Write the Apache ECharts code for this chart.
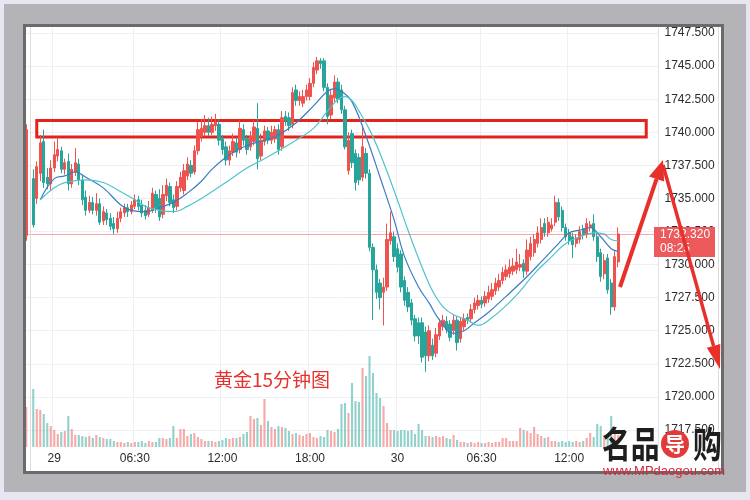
<!DOCTYPE html>
<html><head><meta charset="utf-8">
<script src="https://cdn.jsdelivr.net/npm/echarts@6/dist/echarts.min.js"></script>
<style>html,body{margin:0;padding:0;background:#e8e6f0;}#c{width:750px;height:500px;}</style>
</head><body><div id="c"></div>
<script>
// ---- data (15-minute gold bars): [open, high, low, close]
const ohlc = [
[1732.2,1740.6,1731.8,1740.2],null,
[1736.5,1737.2,1732.8,1733.0],[1735.0,1737.8,1734.6,1737.4],[1736.9,1739.8,1736.3,1739.2],[1739.3,1740.2,1735.8,1736.2],
[1736.6,1737.3,1735.7,1736.1],[1736.1,1737.9,1735.6,1737.3],[1737.3,1739.3,1737.0,1738.3],[1738.2,1739.6,1737.8,1738.7],
[1738.6,1738.9,1736.9,1737.2],[1737.2,1738.0,1736.8,1737.7],[1737.8,1738.4,1735.6,1736.1],[1736.1,1737.6,1735.8,1737.2],
[1737.0,1738.8,1736.7,1737.7],[1737.6,1738.0,1736.0,1736.4],[1736.4,1736.8,1734.5,1734.9],[1735.1,1735.6,1733.7,1734.1],
[1734.1,1735.2,1733.9,1734.7],[1734.7,1735.1,1733.8,1734.1],[1734.1,1735.4,1733.7,1734.6],[1734.6,1735.0,1733.0,1733.2],
[1733.3,1734.4,1733.0,1734.0],[1733.9,1734.2,1733.0,1733.4],[1733.5,1733.9,1732.6,1732.9],[1733.1,1733.6,1732.3,1732.7],
[1732.7,1734.0,1732.4,1733.5],[1733.5,1734.3,1733.2,1734.0],[1733.9,1734.6,1733.6,1734.3],[1734.3,1734.6,1733.6,1734.0],
[1734.0,1734.8,1733.8,1734.5],[1734.4,1735.3,1734.2,1734.9],[1734.9,1735.2,1734.1,1734.4],[1734.5,1734.9,1733.6,1733.9],
[1734.1,1734.5,1733.4,1733.7],[1733.8,1734.8,1733.6,1734.3],[1734.1,1735.8,1733.9,1735.4],[1735.3,1735.6,1733.9,1734.3],
[1735.0,1735.7,1733.3,1733.6],[1733.8,1736.0,1733.5,1735.3],[1735.2,1736.5,1734.8,1736.0],[1735.9,1736.2,1734.4,1734.7],
[1734.9,1735.3,1733.9,1734.3],[1734.4,1736.3,1734.1,1735.9],[1735.8,1737.0,1735.5,1736.6],[1735.6,1737.6,1735.3,1737.1],
[1736.7,1738.1,1736.4,1737.6],[1737.5,1737.9,1736.6,1736.9],[1737.0,1739.0,1736.8,1738.6],[1738.6,1740.8,1738.3,1740.2],
[1739.7,1741.0,1739.3,1740.3],[1740.0,1741.3,1739.7,1740.5],[1740.5,1741.1,1739.7,1740.0],[1740.0,1741.2,1739.8,1740.6],
[1740.5,1741.4,1740.1,1740.8],[1740.6,1741.0,1739.0,1739.4],[1739.5,1739.8,1738.3,1738.7],[1738.9,1739.3,1737.5,1737.9],
[1737.9,1739.0,1737.5,1738.6],[1738.5,1739.9,1738.2,1739.3],[1739.2,1739.6,1738.1,1738.5],[1738.7,1740.9,1738.4,1740.3],
[1740.2,1740.6,1739.0,1739.4],[1739.5,1739.8,1738.3,1738.7],[1738.9,1740.1,1738.6,1739.7],[1739.3,1740.9,1739.0,1740.4],
[1740.3,1742.2,1737.2,1738.0],[1738.2,1739.9,1737.9,1739.4],[1739.3,1740.5,1739.0,1740.1],[1740.1,1740.4,1739.1,1739.4],
[1739.4,1740.5,1739.1,1740.0],[1739.5,1740.5,1739.2,1740.2],[1740.2,1740.6,1738.3,1738.7],[1738.9,1741.6,1738.6,1741.1],
[1741.2,1741.6,1740.5,1740.9],[1741.1,1741.5,1740.1,1740.5],[1740.6,1743.4,1740.3,1743.0],[1743.2,1743.6,1742.0,1742.4],
[1742.4,1743.1,1742.0,1742.7],[1742.2,1743.2,1741.9,1742.7],[1742.7,1743.6,1742.4,1743.2],[1742.7,1744.1,1742.4,1743.7],
[1743.7,1745.3,1743.4,1744.9],[1744.7,1745.7,1744.4,1745.4],[1745.4,1745.6,1744.8,1745.2],[1745.4,1745.6,1743.1,1743.4],
[1743.4,1743.7,1740.6,1741.2],[1741.3,1743.2,1741.0,1742.8],[1742.6,1744.3,1742.3,1743.8],[1743.8,1744.1,1742.2,1742.5],
[1743.2,1743.6,1741.4,1741.7],[1741.7,1742.0,1738.7,1738.9],[1737.1,1740.0,1736.8,1739.4],[1739.9,1740.2,1737.3,1737.7],
[1738.4,1738.7,1735.6,1736.2],[1738.1,1738.4,1736.0,1736.4],[1736.6,1740.4,1736.3,1738.9],[1738.4,1738.8,1736.5,1736.9],
[1736.9,1737.2,1731.0,1731.3],[1731.3,1731.6,1725.8,1729.6],[1729.6,1730.0,1727.4,1727.9],[1728.6,1728.9,1726.6,1727.5],
[1727.9,1729.0,1725.4,1728.3],[1728.3,1733.1,1728.0,1731.9],[1731.8,1734.0,1731.5,1732.4],[1732.1,1732.5,1730.2,1730.6],
[1731.2,1731.6,1729.4,1729.8],[1730.8,1731.1,1727.9,1728.3],[1728.8,1729.1,1726.9,1727.3],[1727.9,1728.3,1726.4,1726.8],
[1727.1,1727.4,1725.4,1725.8],[1725.9,1726.2,1724.2,1724.6],[1725.6,1726.0,1724.0,1724.6],[1725.6,1726.0,1722.6,1723.0],
[1724.9,1725.3,1721.9,1723.1],[1723.1,1725.4,1722.7,1725.0],[1723.9,1724.4,1722.8,1723.1],[1723.3,1725.2,1723.0,1724.7],
[1724.6,1725.9,1724.3,1725.6],[1725.3,1726.2,1725.0,1725.8],[1725.7,1726.1,1724.8,1725.1],[1725.5,1725.8,1724.2,1724.5],
[1725.0,1726.2,1724.7,1725.8],[1725.8,1726.1,1723.5,1724.1],[1724.4,1726.0,1724.1,1725.7],[1725.3,1726.3,1725.0,1725.9],
[1726.0,1726.3,1725.5,1725.8],[1725.9,1727.0,1725.6,1726.6],[1726.6,1727.5,1726.3,1727.1],[1726.9,1727.7,1726.6,1727.3],
[1727.3,1727.6,1726.7,1727.0],[1727.1,1728.0,1726.8,1727.6],[1727.4,1728.4,1727.1,1727.9],[1727.6,1728.6,1727.3,1728.1],
[1728.0,1729.0,1727.7,1728.6],[1728.3,1729.3,1728.0,1728.8],[1728.8,1729.8,1728.5,1729.4],[1729.1,1730.0,1728.8,1729.6],
[1729.3,1730.4,1729.0,1729.8],[1729.5,1730.5,1729.2,1729.9],[1729.6,1731.2,1729.3,1730.2],[1729.8,1730.8,1729.5,1730.0],
[1730.1,1730.4,1729.0,1729.5],[1729.5,1731.9,1729.2,1731.1],[1730.6,1732.1,1730.3,1731.6],[1730.9,1732.3,1730.6,1731.9],
[1731.6,1732.9,1731.3,1732.4],[1731.9,1733.5,1731.6,1732.8],[1733.1,1733.5,1732.1,1732.4],[1732.4,1733.6,1732.1,1733.2],
[1732.7,1733.5,1732.5,1733.0],[1733.2,1735.2,1732.9,1734.7],[1734.7,1735.0,1733.3,1733.6],[1734.1,1734.4,1732.5,1732.8],
[1732.8,1733.1,1731.8,1732.1],[1732.4,1732.7,1731.5,1731.8],[1732.1,1732.4,1730.5,1731.5],[1731.6,1732.3,1731.3,1732.0],
[1731.9,1732.9,1731.6,1732.5],[1732.7,1733.0,1731.9,1732.3],[1732.3,1733.5,1732.0,1733.1],[1732.8,1733.3,1732.5,1733.0],
[1733.1,1733.8,1731.8,1732.1],[1732.1,1732.4,1730.2,1730.6],[1730.9,1731.2,1728.7,1729.1],[1729.3,1730.8,1728.9,1730.3],
[1730.5,1730.8,1727.8,1728.1],[1728.6,1728.9,1726.2,1726.8],[1726.8,1731.0,1726.5,1730.6],[1730.2,1732.8,1729.8,1732.32]
];
const volumes = [
40,0,58,38,37,33,24,21,17,13, 15,16,31,18,12,12,11,10,11,9, 12,10,9,8,8,6,5,5,4,5,
4,5,5,6,4,6,5,5,9,9, 8,9,21,9,18,18,11,13,14,10, 8,6,6,6,5,6,7,9,8,9,
9,10,13,15,31,28,29,22,48,26, 20,18,21,20,19,16,13,14,12,11, 13,14,10,9,11,10,17,16,15,18,
43,44,34,64,46,45,79,71,91,74, 54,49,41,24,17,17,16,17,17,16, 17,13,23,17,11,11,10,11,10,11,
9,8,12,7,5,5,4,5,4,5, 4,4,5,4,5,5,9,9,6,6, 6,19,17,16,14,20,13,11,9,10,
6,6,5,6,5,6,5,6,5,6, 9,14,10,23,21,12,10,31,19,12
];
// moving averages: [barIndex, value]
const maFast = [[4,1734.9],[8,1736.5],[11,1736.7],[14,1737.0],[17,1736.6],[22,1735.8],[27,1734.5],[30,1734.1],[34,1734.0],[38,1734.3],[42,1734.7],[46,1735.4],[50,1736.3],[53,1737.2],[58,1738.3],[63,1739.0],[68,1739.4],[72,1739.8],[77,1740.7],[82,1742.0],[86,1743.1],[88,1743.3],[90,1743.1],[93,1742.3],[97,1739.7],[101,1736.6],[105,1733.4],[108,1730.6],[112,1728.3],[115,1727.1],[118,1725.8],[122,1724.8],[125,1725.0],[128,1725.6],[132,1726.4],[137,1727.6],[143,1729.1],[147,1730.2],[152,1731.6],[155,1732.4],[158,1732.6],[161,1732.8],[164,1732.1],[167,1731.2],[169,1731.0]];
const maSlow = [[4,1734.9],[8,1735.8],[11,1736.2],[17,1736.4],[22,1736.2],[27,1735.5],[31,1734.9],[34,1734.4],[38,1734.1],[42,1734.0],[46,1734.4],[50,1735.0],[53,1735.5],[58,1736.4],[63,1737.3],[68,1738.0],[72,1738.6],[77,1739.4],[82,1740.3],[86,1741.6],[89,1742.5],[91,1742.7],[93,1742.4],[95,1741.6],[98,1740.2],[101,1738.4],[105,1735.6],[109,1732.6],[113,1729.8],[116,1728.0],[119,1726.8],[122,1726.2],[126,1725.8],[129,1725.4],[133,1726.0],[137,1726.9],[141,1728.0],[145,1729.3],[150,1730.6],[154,1731.6],[158,1732.1],[162,1732.4],[165,1732.3],[167,1731.9],[169,1731.8]];
const tickIndex = [8, 31, 56, 81, 106, 130, 155];
const tickLabels = ['29', '06:30', '12:00', '18:00', '30', '06:30', '12:00'];
const priceMin = 1715, priceMax = 1750, priceStep = 2.5;
const lastPrice = 1732.32;
const countdown = '08:25';
const boxBars = [3, 177];
const boxPrices = [1739.65, 1740.9];
const caption = '黄金15分钟图';
const slotCount = 181;

const UP = '#ef5350', DOWN = '#26a69a';
const cats = Array.from({length: slotCount}, (_, i) => String(i));
const candles = ohlc.map(r => r ? [r[0], r[3], r[2], r[1]] : '-');
const volData = volumes.map((v, i) => {
  const r = ohlc[i];
  if (!r) return '-';
  return {value: v, itemStyle: {color: r[3] >= r[0] ? 'rgba(239,83,80,0.5)' : 'rgba(38,166,154,0.5)'}};
});

const chart = echarts.init(document.getElementById('c'), null, {renderer: 'canvas'});
const FONT = '"Liberation Sans", Arial, sans-serif';
chart.setOption({
  animation: false,
  backgroundColor: '#e8e6f0',
  grid: [
    {left: 24.5, right: 91.5, top: 0, bottom: 37, outerBoundsMode: 'none'},
    {left: 24.5, right: 91.5, top: 28, bottom: 53, outerBoundsMode: 'none'}
  ],
  xAxis: [
    {type: 'category', gridIndex: 0, data: cats, boundaryGap: true, show: false},
    {type: 'category', gridIndex: 1, data: cats, boundaryGap: true,
     axisLine: {show: false}, axisTick: {show: false},
     axisLabel: {interval: (i) => tickIndex.includes(i), formatter: (v, i) => { const k = tickIndex.indexOf(i); return k >= 0 ? tickLabels[k] : ''; },
       color: '#2b2b2b', fontSize: 12, margin: 6, fontFamily: FONT},
     splitLine: {show: true, interval: (i) => tickIndex.includes(i), lineStyle: {color: '#eef0f5', width: 1}}}
  ],
  yAxis: [
    {type: 'value', gridIndex: 0, position: 'right', min: priceMin, max: priceMax, interval: priceStep,
     axisLine: {show: false}, axisTick: {show: false},
     axisLabel: {formatter: v => v.toFixed(3), color: '#2b2b2b', fontSize: 12, margin: 6, fontFamily: FONT, showMinLabel: false, showMaxLabel: false},
     splitLine: {show: true, showMinLine: false, showMaxLine: false, lineStyle: {color: '#eef0f5', width: 1}}},
    {type: 'value', gridIndex: 1, position: 'right', min: 0, max: 419,
     axisLine: {show: true, lineStyle: {color: '#dfe2ea'}}, axisTick: {show: false}, axisLabel: {show: false}, splitLine: {show: false}}
  ],
  series: [
    {type: 'bar', xAxisIndex: 1, yAxisIndex: 1, data: volData, barWidth: '60%', z: 1},
    {type: 'candlestick', xAxisIndex: 0, yAxisIndex: 0, data: candles, barWidth: '80%',
     itemStyle: {color: UP, color0: DOWN, borderColor: UP, borderColor0: DOWN, borderWidth: 1},
     markArea: {silent: true, itemStyle: {color: 'rgba(0,0,0,0)', borderColor: '#e3221c', borderWidth: 3, borderRadius: 3},
       data: [[{xAxis: String(boxBars[0]), yAxis: boxPrices[1]}, {xAxis: String(boxBars[1]), yAxis: boxPrices[0]}]]},
     markLine: {silent: true, symbol: 'none', label: {show: false}, lineStyle: {type: 'dotted', color: UP, width: 1},
       data: [{yAxis: lastPrice}]}},
    {type: 'line', xAxisIndex: 0, yAxisIndex: 0, data: maFast, smooth: 0.4, symbol: 'none', lineStyle: {color: '#3a7cc2', width: 1.2}, z: 3},
    {type: 'line', xAxisIndex: 0, yAxisIndex: 0, data: maSlow, smooth: 0.4, symbol: 'none', lineStyle: {color: '#4fc4cc', width: 1.2}, z: 3}
  ]
});

const py = chart.convertToPixel({yAxisIndex: 0}, lastPrice);
const RED = '#e8302a';
function arrow(x0, y0, x1, y1, len, half, w, id) {
  const dx = x1 - x0, dy = y1 - y0, L = Math.hypot(dx, dy), ux = dx / L, uy = dy / L;
  const bx = x1 - ux * len, by = y1 - uy * len, px = -uy, py2 = ux;
  return [
    {type: 'polyline', id: id + 's', z: 120, shape: {points: [[x0, y0], [bx, by]]}, style: {stroke: RED, lineWidth: w, fill: null}},
    {type: 'polygon', id: id + 'h', z: 120, shape: {points: [[x1, y1], [bx + px * half, by + py2 * half], [bx - px * half, by - py2 * half]]}, style: {fill: RED}}
  ];
}
chart.setOption({
  graphic: [
    {type: 'rect', id: 'frame', z: -100, silent: true, shape: {x: 4, y: 4, width: 742, height: 488}, style: {fill: '#b4b3b8'}},
    {type: 'rect', id: 'panel', z: -99, silent: true, shape: {x: 23, y: 24, width: 701, height: 450}, style: {fill: '#ffffff'}},
    {type: 'line', id: 'innerL', z: 90, silent: true, shape: {x1: 30.5, y1: 27, x2: 30.5, y2: 471}, style: {stroke: '#dcdcdc', lineWidth: 1}},
    {type: 'line', id: 'innerR', z: 90, silent: true, shape: {x1: 718.5, y1: 27, x2: 718.5, y2: 471}, style: {stroke: '#dcdcdc', lineWidth: 1}},
    {type: 'rect', id: 'border', z: 100, silent: true, shape: {x: 24.5, y: 25.5, width: 698, height: 447}, style: {fill: null, stroke: '#6a6a6a', lineWidth: 3}},
    {type: 'rect', id: 'tagbg', z: 110, silent: true, shape: {x: 654, y: py - 7, width: 61, height: 30}, style: {fill: '#ec5a5c'}},
    {type: 'text', id: 'tag1', z: 111, silent: true, style: {x: 660, y: py + 0.5, text: lastPrice.toFixed(3), fill: '#fff', fontSize: 12, fontFamily: FONT, align: 'left', verticalAlign: 'middle'}},
    {type: 'text', id: 'tag2', z: 111, silent: true, style: {x: 660, y: py + 14.5, text: countdown, fill: '#fff', fontSize: 12, fontFamily: FONT, align: 'left', verticalAlign: 'middle'}},
    ...arrow(620, 287, 663, 160, 20, 8, 4, 'a1'),
    ...arrow(663, 165, 720, 369, 24, 7, 3.5, 'a2'),
    {type: 'text', id: 'cap', z: 120, silent: true, style: {x: 214, y: 380, text: caption, fill: '#e5322d', fontSize: 19, fontFamily: '"Noto Sans CJK SC", sans-serif', align: 'left', verticalAlign: 'middle'}},
    {type: 'text', id: 'wm1', z: 120, silent: true, x: 602, y: 444, scaleX: 0.9, scaleY: 1.15, style: {x: 0, y: 0, text: '名品', fill: '#1e1e1e', fontSize: 32, fontWeight: 'bold', fontFamily: '"Noto Sans CJK SC", sans-serif', align: 'left', verticalAlign: 'middle'}},
    {type: 'circle', id: 'wmc', z: 120, silent: true, shape: {cx: 675, cy: 444, r: 14}, style: {fill: '#e23a3a'}},
    {type: 'text', id: 'wm2', z: 121, silent: true, style: {x: 675, y: 444, text: '导', fill: '#ffffff', fontSize: 20, fontWeight: 'bold', fontFamily: '"Noto Sans CJK SC", sans-serif', align: 'center', verticalAlign: 'middle'}},
    {type: 'text', id: 'wm3', z: 120, silent: true, x: 693, y: 444, scaleX: 0.9, scaleY: 1.15, style: {x: 0, y: 0, text: '购', fill: '#1e1e1e', fontSize: 32, fontWeight: 'bold', fontFamily: '"Noto Sans CJK SC", sans-serif', align: 'left', verticalAlign: 'middle'}},
    {type: 'text', id: 'wm4', z: 120, silent: true, style: {x: 603, y: 471, text: 'www.MPdaogou.com', fill: '#d9263c', fontSize: 13, fontFamily: FONT, align: 'left', verticalAlign: 'middle'}}
  ]
});
</script>
</body></html>
